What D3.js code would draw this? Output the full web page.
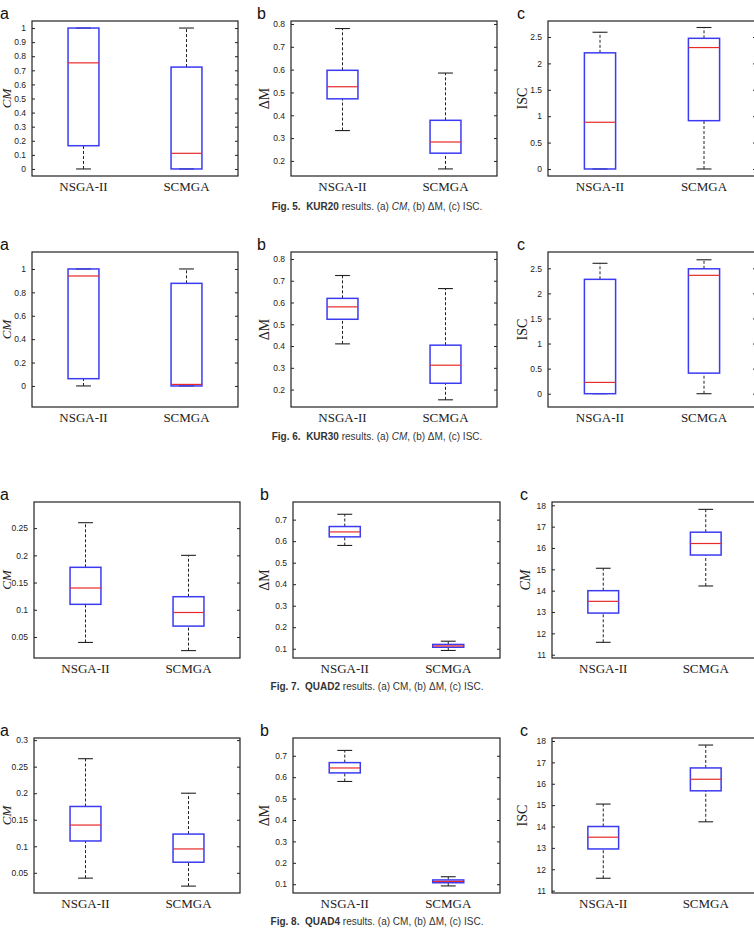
<!DOCTYPE html>
<meta charset="utf-8">
<style>
body { margin: 0; background: #fff; }
svg { display: block; }
.tick text { font-family: "Liberation Sans", Arial, sans-serif; font-size: 8.5px; fill: #222; }
.tick line { stroke: #222; }
.xlab, .ylab { font-family: "Liberation Serif", "Times New Roman", serif; fill: #222; }
.letter { font-family: "Liberation Sans", Arial, sans-serif; font-size: 16px; fill: #111; }
.caption { font-family: "Liberation Sans", Arial, sans-serif; font-size: 10px; fill: #333; }
</style>
<svg width="754" height="942"></svg>
<script src="https://d3js.org/d3.v7.min.js"></script>
<script>

// box stats per method: [lower whisker, q1, median, q3, upper whisker]
const methods = ["NSGA-II", "SCMGA"];

const kur20CM  = [[0, 0.165, 0.753, 1.0, 1.0], [0, 0, 0.111, 0.723, 1.0]];
const kur20DM  = [[0.333, 0.472, 0.525, 0.597, 0.78], [0.165, 0.234, 0.283, 0.378, 0.585]];
const kur20ISC = [[0, 0, 0.885, 2.2, 2.59], [0, 0.915, 2.3, 2.475, 2.68]];

const kur30CM  = [[0, 0.062, 0.94, 1.0, 1.0], [0, 0, 0.013, 0.877, 1.0]];
const kur30DM  = [[0.41, 0.523, 0.58, 0.619, 0.724], [0.153, 0.229, 0.312, 0.404, 0.664]];
const kur30ISC = [[0, 0, 0.225, 2.28, 2.6], [0, 0.41, 2.36, 2.49, 2.67]];

const quad2CM  = [[0.04, 0.11, 0.14, 0.178, 0.26], [0.025, 0.07, 0.095, 0.124, 0.2]];
const quad2DM  = [[0.58, 0.62, 0.643, 0.668, 0.725], [0.092, 0.107, 0.113, 0.12, 0.135]];
const quad2ISC = [[11.58, 12.95, 13.5, 14.0, 15.05], [14.22, 15.67, 16.21, 16.74, 17.81]];

const quad4CM  = [[0.04, 0.11, 0.14, 0.175, 0.265], [0.025, 0.07, 0.095, 0.123, 0.2]];
const quad4DM  = [[0.58, 0.62, 0.643, 0.668, 0.725], [0.092, 0.107, 0.113, 0.12, 0.135]];
const quad4ISC = [[11.58, 12.95, 13.5, 14.0, 15.05], [14.22, 15.67, 16.21, 16.74, 17.81]];

// tick labels
const ticksCM10 = [0, 0.1, 0.2, 0.3, 0.4, 0.5, 0.6, 0.7, 0.8, 0.9, 1];
const ticksCM5  = [0, 0.2, 0.4, 0.6, 0.8, 1];
const ticksDM8  = [0.2, 0.3, 0.4, 0.5, 0.6, 0.7, 0.8];
const ticksDM7  = [0.1, 0.2, 0.3, 0.4, 0.5, 0.6, 0.7];
const ticksISC  = [0, 0.5, 1, 1.5, 2, 2.5];
const ticksQCM2 = [0.05, 0.1, 0.15, 0.2, 0.25];
const ticksQCM4 = [0.05, 0.1, 0.15, 0.2, 0.25, 0.3];
const ticksQISC = [11, 12, 13, 14, 15, 16, 17, 18];

const figNums  = ["5", "6", "7", "8"];
const figNames = ["KUR20", "KUR30", "QUAD2", "QUAD4"];
const letters  = ["a", "b", "c"];

// layout
const rows = [
  {top: 21,  bottom: 176, cols: [[32, 238], [291, 497], [548, 756]], letterY: 19,  letterX: [0, 257, 517], captionY: 210, italicCM: true},
  {top: 252, bottom: 407, cols: [[32, 238], [291, 497], [548, 756]], letterY: 250, letterX: [0, 257, 517], captionY: 440, italicCM: true},
  {top: 502, bottom: 658, cols: [[34, 240], [293, 500], [552, 757]], letterY: 500, letterX: [0, 260, 520], captionY: 690, italicCM: false},
  {top: 738, bottom: 893, cols: [[34, 240], [293, 500], [552, 757]], letterY: 736, letterX: [0, 260, 520], captionY: 925, italicCM: false}
];

const panels = [
  {row: 0, col: 0, data: kur20CM,  ticks: ticksCM10, domain: [-0.05, 1.05],   label: "CM",  labelX: 11, italic: true},
  {row: 0, col: 1, data: kur20DM,  ticks: ticksDM8,  domain: [0.134, 0.813],  label: "ΔM",  labelX: 269},
  {row: 0, col: 2, data: kur20ISC, ticks: ticksISC,  domain: [-0.133, 2.803], label: "ISC", labelX: 527},
  {row: 1, col: 0, data: kur30CM,  ticks: ticksCM5,  domain: [-0.18, 1.145],  label: "CM",  labelX: 11, italic: true},
  {row: 1, col: 1, data: kur30DM,  ticks: ticksDM8,  domain: [0.12, 0.832],   label: "ΔM",  labelX: 269},
  {row: 1, col: 2, data: kur30ISC, ticks: ticksISC,  domain: [-0.265, 2.825], label: "ISC", labelX: 527},
  {row: 2, col: 0, data: quad2CM,  ticks: ticksQCM2, domain: [0.0114, 0.298], label: "CM",  labelX: 11, italic: true},
  {row: 2, col: 1, data: quad2DM,  ticks: ticksDM7,  domain: [0.057, 0.782],  label: "ΔM",  labelX: 269},
  {row: 2, col: 2, data: quad2ISC, ticks: ticksQISC, domain: [10.845, 18.155], label: "CM", labelX: 530, italic: true},
  {row: 3, col: 0, data: quad4CM,  ticks: ticksQCM4, domain: [0.012, 0.304],  label: "CM",  labelX: 11, italic: true},
  {row: 3, col: 1, data: quad4DM,  ticks: ticksDM7,  domain: [0.059, 0.783],  label: "ΔM",  labelX: 269},
  {row: 3, col: 2, data: quad4ISC, ticks: ticksQISC, domain: [10.89, 18.14],  label: "ISC", labelX: 527}
];

const svg = d3.select("svg");

panels.forEach(function(p) {
  const r = rows[p.row];
  const [left, right] = r.cols[p.col];
  const w = right - left;

  const x = d3.scalePoint().domain(methods).range([left, right]).padding(0.5);
  const y = d3.scaleLinear().domain(p.domain).range([r.bottom, r.top]);

  const g = svg.append("g");

  g.append("g")
    .attr("transform", "translate(" + left + ",0)")
    .call(d3.axisLeft(y).tickValues(p.ticks).tickSize(-3).tickPadding(6).tickFormat(d => String(d)))
    .call(a => a.select(".domain").remove());
  g.append("g")
    .attr("transform", "translate(" + right + ",0)")
    .call(d3.axisRight(y).tickValues(p.ticks).tickSize(-3).tickFormat(""))
    .call(a => a.select(".domain").remove());

  const bw = w * 0.075, cw = w * 0.036;

  const box = g.selectAll(".box").data(p.data).enter().append("g");
  box.append("line")
    .attr("x1", (d, i) => x(methods[i])).attr("x2", (d, i) => x(methods[i]))
    .attr("y1", d => y(d[3])).attr("y2", d => y(d[4]))
    .attr("stroke", "#222").attr("stroke-dasharray", "3,2");
  box.append("line")
    .attr("x1", (d, i) => x(methods[i])).attr("x2", (d, i) => x(methods[i]))
    .attr("y1", d => y(d[0])).attr("y2", d => y(d[1]))
    .attr("stroke", "#222").attr("stroke-dasharray", "3,2");
  [0, 4].forEach(function(k) {
    box.append("line")
      .attr("x1", (d, i) => x(methods[i]) - cw).attr("x2", (d, i) => x(methods[i]) + cw)
      .attr("y1", d => y(d[k])).attr("y2", d => y(d[k]))
      .attr("stroke", "#222").attr("stroke-width", 1.1);
  });
  box.append("rect")
    .attr("x", (d, i) => x(methods[i]) - bw)
    .attr("width", 2 * bw)
    .attr("y", d => y(d[3]))
    .attr("height", d => y(d[1]) - y(d[3]))
    .attr("fill", "none").attr("stroke", "#3b3bf2").attr("stroke-width", 1.5);
  box.append("line")
    .attr("x1", (d, i) => x(methods[i]) - bw).attr("x2", (d, i) => x(methods[i]) + bw)
    .attr("y1", d => y(d[2])).attr("y2", d => y(d[2]))
    .attr("stroke", "#e82a2a").attr("stroke-width", 1.2);

  // frame
  g.append("rect")
    .attr("x", left).attr("y", r.top)
    .attr("width", w).attr("height", r.bottom - r.top)
    .attr("fill", "none").attr("stroke", "#222").attr("stroke-width", 1.2);

  // category labels
  g.selectAll(".xlab").data(methods).enter().append("text")
    .attr("class", "xlab")
    .attr("x", d => x(d)).attr("y", r.bottom + 15)
    .attr("text-anchor", "middle").attr("font-size", 13)
    .text(d => d);

  // axis label
  const lblY = (r.top + r.bottom) / 2;
  g.append("text")
    .attr("class", "ylab")
    .attr("transform", "translate(" + p.labelX + "," + lblY + ") rotate(-90)")
    .attr("text-anchor", "middle").attr("font-size", p.col === 0 ? 13 : 14)
    .attr("font-style", p.italic ? "italic" : "normal")
    .text(p.label);

  // panel letter
  svg.append("text").attr("class", "letter")
    .attr("x", r.letterX[p.col]).attr("y", r.letterY)
    .text(letters[p.col]);
});

// captions
rows.forEach(function(r, i) {
  const t = svg.append("text").attr("class", "caption")
    .attr("x", 377).attr("y", r.captionY).attr("text-anchor", "middle");
  t.append("tspan").attr("font-weight", "bold").text("Fig. " + figNums[i] + ".");
  t.append("tspan").text("\u00a0 ");
  t.append("tspan").attr("font-weight", "bold").text(figNames[i]);
  t.append("tspan").text(" results. (a) ");
  t.append("tspan").attr("font-style", r.italicCM ? "italic" : "normal").text("CM");
  t.append("tspan").text(", (b) ΔM, (c) ISC.");
});

</script>
